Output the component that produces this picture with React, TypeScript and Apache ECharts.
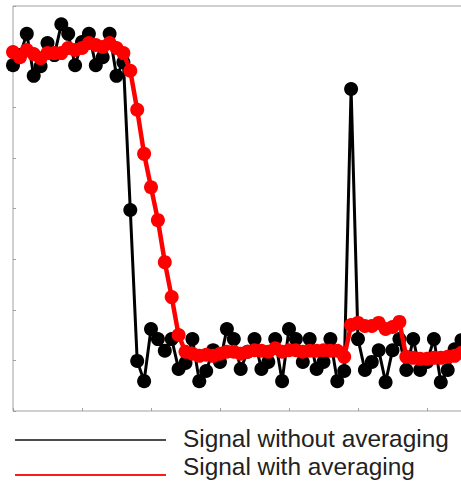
import React, { useEffect, useRef } from "react";
import * as echarts from "echarts";

// Sample values (index = sample number, starting at 0)
const leadInValue = 7.53; // sample just before the left edge (only its line shows)
const withoutAveraging = [
  6.83, 7.03, 7.45, 6.62, 6.81, 7.27, 7.03, 7.64, 7.45, 6.83,
  7.29, 7.45, 6.83, 6.99, 7.45, 6.62, 6.89, 3.97, 0.99, 0.59,
  1.62, 1.42, 1.19, 1.42, 0.83, 0.95, 1.42, 0.59, 0.79, 1.2,
  0.97, 1.62, 1.42, 0.83, 1.17, 1.42, 0.83, 0.97, 1.42, 0.59,
  1.62, 1.42, 0.97, 1.42, 0.83, 0.97, 1.42, 0.59, 0.79, 6.36,
  1.42, 0.81, 0.97, 1.2, 0.57, 1.2, 1.42, 0.81, 1.42, 0.81,
  0.97, 1.42, 0.57, 0.81, 1.22, 1.4,
];
const withAveraging = [
  7.09, 6.99, 7.13, 7.05, 6.97, 7.07, 7.07, 7.07, 7.17, 7.13,
  7.17, 7.27, 7.23, 7.19, 7.27, 7.17, 7.07, 6.72, 5.95, 5.08,
  4.42, 3.77, 2.94, 2.25, 1.5, 1.17, 1.13, 1.09, 1.11, 1.09,
  1.13, 1.17, 1.17, 1.13, 1.17, 1.2, 1.19, 1.17, 1.24, 1.17,
  1.2, 1.2, 1.17, 1.19, 1.19, 1.2, 1.19, 1.19, 1.07, 1.7,
  1.74, 1.68, 1.68, 1.74, 1.62, 1.66, 1.76, 1.07, 1.05, 1.03,
  1.03, 1.05, 1.05, 1.07, 1.09, 1.15,
];
const legendLabels = ["Signal without averaging", "Signal with averaging"];

const X_MIN = 0;
const X_MAX = 70;
const X_STEP = 10;
const Y_MIN = 0;
const Y_MAX = 8;
const Y_STEP = 1;

export default function App() {
  const ref = useRef<HTMLDivElement>(null);

  useEffect(() => {
    document.body.style.margin = "0";
    if (!ref.current) return;
    const chart = echarts.init(ref.current, null, { renderer: "svg" });

    const blackData: any[] = [
      { value: [-1, leadInValue], symbol: "none" },
      ...withoutAveraging.map((v, i) => [i, v]),
    ];
    const redData = withAveraging.map((v, i) => [i, v]);

    const font = "'Liberation Sans', Arial, Helvetica, sans-serif";

    chart.setOption({
      animation: false,
      backgroundColor: "#fff",
      grid: {
        left: 13,
        top: 6,
        width: 483,
        height: 405,
        show: true,
        borderColor: "#a0a0a0",
        borderWidth: 1,
        containLabel: false,
      },
      xAxis: {
        type: "value",
        min: X_MIN,
        max: X_MAX,
        interval: X_STEP,
        axisLine: { show: false },
        axisTick: { show: true, inside: true, length: 3, lineStyle: { color: "#a0a0a0" } },
        axisLabel: { show: false },
        splitLine: { show: false },
      },
      yAxis: {
        type: "value",
        min: Y_MIN,
        max: Y_MAX,
        interval: Y_STEP,
        axisLine: { show: false },
        axisTick: { show: true, inside: true, length: 3, lineStyle: { color: "#a0a0a0" } },
        axisLabel: { show: false },
        splitLine: { show: false },
      },
      series: [
        {
          name: legendLabels[0],
          type: "line",
          data: blackData,
          clip: false,
          symbol: "circle",
          symbolSize: 14,
          showAllSymbol: true,
          lineStyle: { color: "#000", width: 3 },
          itemStyle: { color: "#000" },
          z: 2,
        },
        {
          name: legendLabels[1],
          type: "line",
          data: redData,
          clip: false,
          symbol: "circle",
          symbolSize: 14,
          showAllSymbol: true,
          lineStyle: { color: "#ff0000", width: 4.5 },
          itemStyle: { color: "#ff0000" },
          z: 3,
        },
      ],
      graphic: [
        {
          type: "line",
          shape: { x1: 15, y1: 440, x2: 166, y2: 440 },
          style: { stroke: "#111", lineWidth: 1.5 },
        },
        {
          type: "line",
          shape: { x1: 15, y1: 475, x2: 166, y2: 475 },
          style: { stroke: "#ff1a1a", lineWidth: 2 },
        },
        {
          type: "text",
          x: 183,
          y: 438,
          style: {
            text: legendLabels[0],
            font: `24.4px ${font}`,
            fill: "#222",
            verticalAlign: "middle",
          },
        },
        {
          type: "text",
          x: 183,
          y: 466,
          style: {
            text: legendLabels[1],
            font: `24.4px ${font}`,
            fill: "#222",
            verticalAlign: "middle",
          },
        },
      ],
    });

    return () => chart.dispose();
  }, []);

  return (
    <div style={{ width: 461, height: 482, overflow: "hidden", position: "relative" }}>
      <div ref={ref} style={{ width: 520, height: 482 }} />
    </div>
  );
}
